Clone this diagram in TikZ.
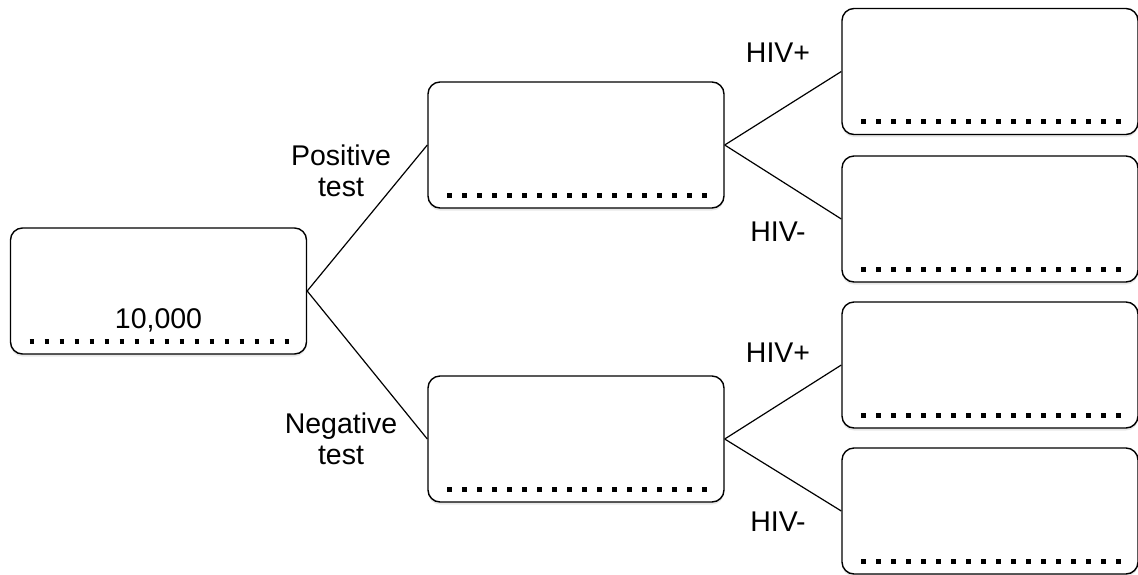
\documentclass[tikz,border=0pt]{standalone}
\usepackage{fontspec}
\setmainfont{Liberation Sans}
\usetikzlibrary{shadows}
\begin{document}
\begin{tikzpicture}[x=1pt,y=-1pt,
  box/.style={draw=black, line width=1.4pt, rounded corners=12pt, fill=white,
    minimum width=296pt, minimum height=126pt, inner sep=0pt,
    drop shadow={opacity=0.18, shadow xshift=0pt, shadow yshift=-2.5pt}},
  dotline/.style={line width=4.6pt, dash pattern=on 4.6pt off 10.4pt, black},
  lbl/.style={font=\fontsize{28.5}{31}\selectfont, align=center, inner sep=0pt},
  conn/.style={line width=1.2pt}]
\useasboundingbox (0,0) rectangle (1138,574);
\node[box] (root) at (158.5,291) {};
\node[box] (pos) at (576,145) {};
\node[box] (neg) at (576,439) {};
\node[box] (r1) at (990,71.5) {};
\node[box] (r2) at (990,219) {};
\node[box] (r3) at (990,365) {};
\node[box] (r4) at (990,511) {};
\foreach \n in {root,pos,neg,r1,r2,r3,r4}{
  \draw[dotline] ([xshift=19.7pt,yshift=13.5pt]\n.south west) -- ++(260pt,0pt);
}
\node[lbl, anchor=base] (val) at (158.5,328) {10,000};
\draw[conn] (root.east) -- (pos.west);
\draw[conn] (root.east) -- (neg.west);
\draw[conn] (pos.east) -- (r1.west);
\draw[conn] (pos.east) -- (r2.west);
\draw[conn] (neg.east) -- (r3.west);
\draw[conn] (neg.east) -- (r4.west);
\node[lbl] (lpos) at (341,171) {Positive\\test};
\node[lbl] (lneg) at (341,439) {Negative\\test};
\node[lbl] (h1) at (778,53) {HIV+};
\node[lbl] (h2) at (778,232) {HIV-};
\node[lbl] (h3) at (778,353) {HIV+};
\node[lbl] (h4) at (778,522) {HIV-};
\end{tikzpicture}
\end{document}
